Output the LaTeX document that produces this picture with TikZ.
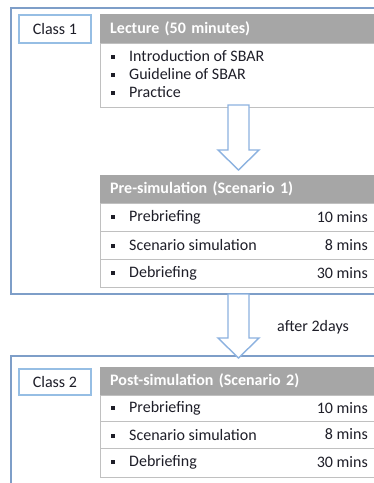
\documentclass[tikz,border=0pt]{standalone}
\usepackage{fontspec}
\setmainfont{Carlito}
\usetikzlibrary{calc}

\definecolor{framebl}{RGB}{126,158,200}
\definecolor{classbl}{RGB}{150,190,228}
\definecolor{arrowbl}{RGB}{140,178,224}
\definecolor{headgray}{RGB}{166,166,166}
\definecolor{rowgray}{RGB}{192,192,192}
\definecolor{txtdark}{RGB}{30,30,40}

\tikzset{
    frame/.style={draw=framebl, line width=1.2pt},
    classbox/.style={draw=classbl, line width=1.8pt, fill=white, anchor=north west,
        minimum width=72pt, minimum height=28pt, inner sep=0pt, text=txtdark},
    headbar/.style={fill=headgray, anchor=north west, text=white,
        font=\fontsize{16}{18}\selectfont\bfseries,
        text width=280pt, inner xsep=10pt, inner ysep=0pt, align=left, minimum height=29pt},
    rowbox/.style={draw=rowgray, line width=0.8pt, fill=white, anchor=north west,
        minimum width=300pt, inner sep=0pt},
    item/.style={anchor=west, inner sep=0pt, text=txtdark},
    mins/.style={anchor=east, inner sep=0pt, text=txtdark},
    blockarr/.style={draw=arrowbl, line width=1.4pt, fill=white, line join=miter},
}

\newcommand{\sq}{\makebox[18pt][l]{\raisebox{2.5pt}{\rule{4pt}{4pt}}}}
\newcommand{\blockarrow}[2]{%
    \draw[blockarr] ($(#1)+(-10.5,0)$) -- ($(#2)+(-10.5,-20)$) -- ($(#2)+(-20.5,-20)$)
        -- (#2) -- ($(#2)+(20.5,-20)$) -- ($(#2)+(10.5,-20)$) -- ($(#1)+(10.5,0)$) -- cycle;}

\begin{document}
\begin{tikzpicture}[x=1pt, y=-1pt, font=\fontsize{16}{18}\selectfont]
    \useasboundingbox (0,0) rectangle (374,483);
    \clip (0,0) rectangle (374,483);
    \fill[white] (0,0) rectangle (374,483);

    % class 1
    \draw[frame] (11,8) rectangle (420,294);
    \node[classbox] (class1) at (18,14) {Class 1};

    \node[headbar] (lechead) at (100,14) {Lecture (50 minutes)};
    \node[rowbox, minimum height=64pt] (lecbody) at (100,43) {};
    \node[item] (lec1) at (111,56) {\sq Introduction of SBAR};
    \node[item] (lec2) at (111,74) {\sq Guideline of SBAR};
    \node[item] (lec3) at (111,92) {\sq Practice};

    \coordinate (a1s) at (238.5,105);
    \coordinate (a1e) at (238.5,170);
    \blockarrow{a1s}{a1e}

    \node[headbar, minimum height=28pt] (prehead) at (100,175) {Pre-simulation (Scenario 1)};
    \node[rowbox, minimum height=28pt] (prerow1) at (100,203) {};
    \node[rowbox, minimum height=28pt] (prerow2) at (100,231) {};
    \node[rowbox, minimum height=28pt] (prerow3) at (100,259) {};
    \node[item] (pre1) at (111,217) {\sq Prebriefing};
    \node[item] (pre2) at (111,245) {\sq Scenario simulation};
    \node[item] (pre3) at (111,273) {\sq Debriefing};
    \node[mins] (pret1) at (368,217) {10 mins};
    \node[mins] (pret2) at (368,245) {8 mins};
    \node[mins] (pret3) at (368,273) {30 mins};

    % between classes
    \coordinate (a2s) at (238.5,294);
    \coordinate (a2e) at (238.5,358);
    \node[item] (gap) at (277,327) {after 2days};

    % class 2
    \draw[frame] (11,356) rectangle (420,520);
    \blockarrow{a2s}{a2e}
    \node[classbox, minimum height=26pt] (class2) at (18,368) {Class 2};

    \node[headbar, minimum height=28pt] (posthead) at (100,367) {Post-simulation (Scenario 2)};
    \node[rowbox, minimum height=26pt] (postrow1) at (100,395) {};
    \node[rowbox, minimum height=27pt] (postrow2) at (100,421) {};
    \node[rowbox, minimum height=29pt] (postrow3) at (100,448) {};
    \node[item] (post1) at (111,408) {\sq Prebriefing};
    \node[item] (post2) at (111,434.5) {\sq Scenario simulation};
    \node[item] (post3) at (111,462.5) {\sq Debriefing};
    \node[mins] (postt1) at (368,408) {10 mins};
    \node[mins] (postt2) at (368,434.5) {8 mins};
    \node[mins] (postt3) at (368,462.5) {30 mins};
\end{tikzpicture}
\end{document}
